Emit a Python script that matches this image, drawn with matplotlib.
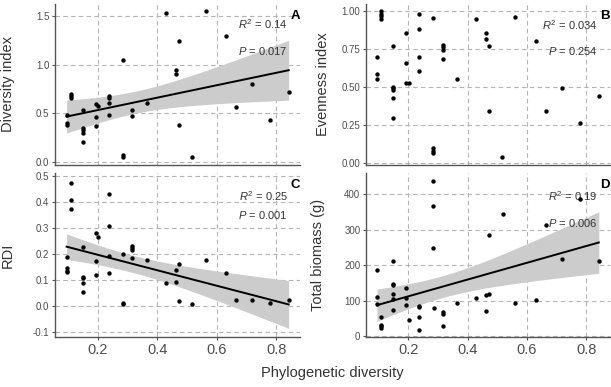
import numpy as np
import matplotlib
matplotlib.use("Agg")
import matplotlib.pyplot as plt

plt.rcParams['font.family'] = ['Liberation Sans', 'DejaVu Sans']
plt.rcParams['mathtext.fontset'] = 'custom'
plt.rcParams['mathtext.rm'] = 'Liberation Sans'
plt.rcParams['mathtext.it'] = 'Liberation Sans:italic'

# values
a_x = [0.096, 0.096, 0.096, 0.11, 0.11, 0.11, 0.15, 0.15, 0.15, 0.15, 0.15,
       0.193, 0.193, 0.193, 0.202, 0.237, 0.237, 0.237, 0.237, 0.284, 0.284, 0.284,
       0.316, 0.316, 0.365, 0.43, 0.462, 0.462, 0.472, 0.472, 0.518, 0.563,
       0.63, 0.663, 0.719, 0.778, 0.841]
a_y = [0.48, 0.40, 0.38, 0.70, 0.68, 0.66, 0.53, 0.35, 0.33, 0.30, 0.20,
       0.59, 0.46, 0.37, 0.57, 0.68, 0.66, 0.61, 0.48, 1.05, 0.065, 0.048,
       0.535, 0.475, 0.61, 1.53, 0.945, 0.90, 1.24, 0.38, 0.045, 1.55,
       1.30, 0.56, 0.80, 0.43, 0.72]

b_x = [0.094, 0.094, 0.094, 0.109, 0.109, 0.109, 0.109,
       0.149, 0.149, 0.149, 0.149, 0.149, 0.149, 0.192, 0.192, 0.192, 0.201,
       0.237, 0.237, 0.237, 0.237, 0.284, 0.284, 0.284, 0.284,
       0.315, 0.315, 0.315, 0.315, 0.364, 0.429, 0.462, 0.462, 0.471, 0.471,
       0.517, 0.561, 0.63, 0.663, 0.717, 0.779, 0.842]
b_y = [0.70, 0.586, 0.554, 1.00, 0.985, 0.97, 0.95,
       0.77, 0.505, 0.495, 0.485, 0.431, 0.295, 0.856, 0.662, 0.526, 0.526,
       0.985, 0.886, 0.698, 0.61, 0.953, 0.10, 0.082, 0.065,
       0.778, 0.763, 0.748, 0.685, 0.556, 0.948, 0.856, 0.817, 0.77, 0.345,
       0.039, 0.963, 0.806, 0.347, 0.496, 0.265, 0.446]

c_x = [0.096, 0.096, 0.096, 0.096, 0.11, 0.11, 0.11,
       0.15, 0.15, 0.15, 0.15, 0.15, 0.193, 0.193, 0.193, 0.202,
       0.237, 0.237, 0.237, 0.237, 0.284, 0.284, 0.284,
       0.316, 0.316, 0.316, 0.316, 0.365, 0.43, 0.462, 0.462, 0.472, 0.472,
       0.518, 0.563, 0.63, 0.663, 0.719, 0.778, 0.841]
c_y = [0.19, 0.145, 0.136, 0.129, 0.472, 0.408, 0.371,
       0.225, 0.113, 0.108, 0.09, 0.055, 0.282, 0.173, 0.121, 0.264,
       0.43, 0.306, 0.191, 0.127, 0.20, 0.013, 0.007,
       0.229, 0.223, 0.217, 0.183, 0.177, 0.09, 0.139, 0.094, 0.16, 0.018,
       0.009, 0.176, 0.127, 0.023, 0.025, 0.013, 0.024]

d_x = [0.094, 0.094, 0.094, 0.109, 0.109, 0.109, 0.109,
       0.149, 0.149, 0.149, 0.149, 0.149, 0.149, 0.192, 0.192, 0.192, 0.201,
       0.237, 0.237, 0.237, 0.237, 0.284, 0.284, 0.284, 0.287,
       0.315, 0.315, 0.315, 0.364, 0.429, 0.462, 0.462, 0.471, 0.471,
       0.518, 0.561, 0.63, 0.663, 0.717, 0.779, 0.842]
d_y = [186, 111, 90, 53, 33, 28, 23,
       211, 148, 144, 120, 104, 74, 137, 109, 89, 46,
       86, 81, 53, 19, 437, 367, 247, 80,
       69, 64, 28, 95, 109, 116, 71, 286, 118,
       343, 93, 101, 312, 217, 385, 213]

ylabels = ["Diversity index", "Evenness index", "RDI", "Total biomass (g)"]
letters = ["A", "B", "C", "D"]
r2_text = ["0.14", "0.034", "0.25", "0.19"]
p_text = ["0.017", "0.254", "0.001", "0.006"]
show_fit = [True, False, True, True]

fig = plt.figure(figsize=(6.11, 3.87), dpi=100)
boxes = [[0.090, 0.5744, 0.401, 0.4153],
         [0.599, 0.5744, 0.399, 0.4153],
         [0.090, 0.1292, 0.401, 0.4225],
         [0.599, 0.1292, 0.399, 0.4225]]
ylims = [(-0.03, 1.625), (-0.009, 1.048), (-0.119, 0.509), (-2, 458)]
yticks = [[0.0, 0.5, 1.0, 1.5], [0.0, 0.25, 0.5, 0.75, 1.0],
          [-0.1, 0, 0.1, 0.2, 0.3, 0.4, 0.5], [0, 100, 200, 300, 400]]
yfmt = ["%.1f", "%.2f", "%.1f", "%d"]
label_x = [-0.163, -0.148, -0.163, -0.168]
r2_y = [0.877, 0.87, 0.86, 0.86]
p_y = [0.71, 0.71, 0.744, 0.697]

data = [(a_x, a_y), (b_x, b_y), (c_x, c_y), (d_x, d_y)]

for i, (xs, ys) in enumerate(data):
    ax = fig.add_axes(boxes[i])
    x = np.array(xs)
    y = np.array(ys)

    if show_fit[i]:
        # linear fit with 95% confidence band
        slope, icpt = np.polyfit(x, y, 1)
        xx = np.linspace(x.min(), x.max(), 100)
        yy = icpt + slope * xx
        n = len(x)
        resid = y - (icpt + slope * x)
        s = np.sqrt(np.sum(resid ** 2) / (n - 2))
        sxx = np.sum((x - x.mean()) ** 2)
        se = s * np.sqrt(1.0 / n + (xx - x.mean()) ** 2 / sxx)
        ax.fill_between(xx, yy - 2.03 * se, yy + 2.03 * se, color='#cccccc', lw=0, zorder=2)
        ax.plot(xx, yy, color='black', lw=1.4, zorder=4)

    ax.scatter(x, y, s=10, color='black', zorder=5, linewidths=0)

    ax.set_xlim(0.057, 0.879)
    ax.set_ylim(*ylims[i])
    ax.set_xticks([0.2, 0.4, 0.6, 0.8])
    ax.set_yticks(yticks[i])
    ax.set_yticklabels([yfmt[i] % v for v in yticks[i]])
    ax.grid(True, color='#b4b4b4', ls=(0, (4, 3)), lw=0.8, zorder=0)
    ax.set_axisbelow(True)
    for sp in ['top', 'right']:
        ax.spines[sp].set_visible(False)
    for sp in ['left', 'bottom']:
        ax.spines[sp].set_color('#555555')
        ax.spines[sp].set_linewidth(1.0)
    ax.tick_params(axis='y', labelsize=7, colors='#555555', length=2.5, width=0.8, pad=1.5)
    ax.tick_params(axis='y', labelcolor='#4d4d4d')
    if i < 2:
        ax.tick_params(axis='x', bottom=False, labelbottom=False)
    else:
        ax.tick_params(axis='x', labelsize=10.5, colors='#555555', length=2.5, width=0.8, pad=2)
        ax.tick_params(axis='x', labelcolor='#4d4d4d')
        ax.set_xticklabels(["0.2", "0.4", "0.6", "0.8"])

    ax.set_ylabel(ylabels[i], fontsize=10.5, color='#333333')
    ax.yaxis.set_label_coords(label_x[i], 0.5)

    ax.text(0.95, r2_y[i], "$R^2$ = " + r2_text[i], transform=ax.transAxes,
            ha='right', va='center', fontsize=8, color='#333333')
    ax.text(0.95, p_y[i], "$P$ = " + p_text[i], transform=ax.transAxes,
            ha='right', va='center', fontsize=8, color='#333333')
    ax.text(1.0, 0.965, letters[i], transform=ax.transAxes, ha='right', va='top',
            fontsize=9.5, fontweight='bold')

fig.text(332 / 611, 0.036, "Phylogenetic diversity", ha='center', va='center',
         fontsize=10.5, color='#333333')

fig.savefig("out.png", dpi=100)
